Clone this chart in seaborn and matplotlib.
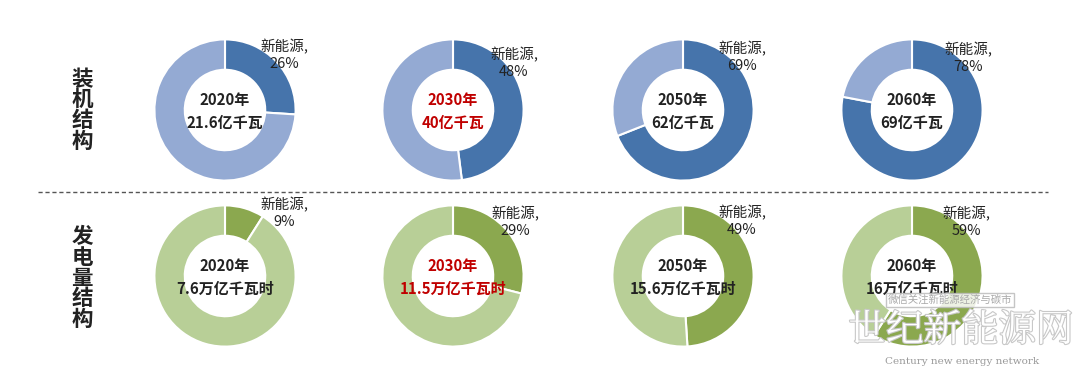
import matplotlib
matplotlib.use("Agg")
import matplotlib.pyplot as plt
import matplotlib.patheffects as pe
import seaborn as sns

sns.set_theme(style="white")
plt.rcParams['font.family'] = ['Noto Sans CJK SC', 'DejaVu Sans']

# ---- data ----
years = ["2020年", "2030年", "2050年", "2060年"]
cap_share = [26, 48, 69, 78]            # new-energy share of installed capacity (%)
cap_total = ["21.6亿千瓦", "40亿千瓦", "62亿千瓦", "69亿千瓦"]
gen_share = [9, 29, 49, 59]             # new-energy share of generation (%)
gen_total = ["7.6万亿千瓦时", "11.5万亿千瓦时", "15.6万亿千瓦时", "16万亿千瓦时"]
row_titles = ["装机结构", "发电量结构"]
slice_label = "新能源,"

# ---- style ----
W, H = 1080, 370
fig = plt.figure(figsize=(W / 100, H / 100), dpi=100)
fig.patch.set_facecolor("white")

blue = ["#4674AB", "#94AAD3"]
green = ["#8BA84F", "#B8CF97"]
centers_x = [225, 453, 683, 912]
rows_y = [110, 276]
R = 72
label_pos = [  # label centre (px) for each donut, per row
    [(284, 55), (514, 63), (742, 57), (968, 58)],
    [(284, 213), (515, 222), (742, 221), (966, 222)],
]

def px_axes(cx, cy, r):
    return fig.add_axes([(cx - r) / W, (H - cy - r) / H, 2 * r / W, 2 * r / H])

rows = [(cap_share, cap_total, blue), (gen_share, gen_total, green)]
for ri, (shares, totals, cols) in enumerate(rows):
    cy = rows_y[ri]
    for ci, (s, tot) in enumerate(zip(shares, totals)):
        cx = centers_x[ci]
        ax = px_axes(cx, cy, R)
        ax.pie([s, 100 - s], colors=cols, startangle=90, counterclock=False,
               radius=1.0, wedgeprops=dict(width=0.43, edgecolor="white", linewidth=1.5))
        ax.set_xlim(-1.02, 1.02)
        ax.set_ylim(-1.02, 1.02)
        ax.set_aspect("equal")
        ax.axis("off")
        col = "#C00000" if ci == 1 else "#222222"
        ax.text(0, 0.14, years[ci], ha="center", va="center", fontsize=10.8,
                fontweight="bold", color=col)
        ax.text(0, -0.18, tot, ha="center", va="center", fontsize=10.8,
                fontweight="bold", color=col)
        lx, ly = label_pos[ri][ci]
        fig.text(lx / W, 1 - ly / H, f"{slice_label}\n{s}%", ha="center", va="center",
                 fontsize=10.5, color="#222222", linespacing=1.25)

# row titles
fig.text(82 / W, 1 - 110 / H, "\n".join(row_titles[0]), ha="center", va="center",
         fontsize=15.5, fontweight="bold", color="#222222", linespacing=0.98)
fig.text(82 / W, 1 - 278 / H, "\n".join(row_titles[1]), ha="center", va="center",
         fontsize=15.5, fontweight="bold", color="#222222", linespacing=0.98)

# dashed separator
sep = fig.add_axes([0, 0, 1, 1], zorder=-1)
sep.set_xlim(0, W)
sep.set_ylim(H, 0)
sep.axis("off")
sep.plot([38, 1048], [192, 192], ls=(0, (3, 2)), color="#555555", lw=1)

# watermark
fig.text(950 / W, 1 - 300 / H, "微信关注新能源经济与碳市", ha="center", va="center",
         fontsize=7.5, color="#AAAAAA",
         bbox=dict(boxstyle="square,pad=0.2", fc="white", ec="#BBBBBB", alpha=0.85))
fig.text(961 / W, 1 - 331 / H, "世纪新能源网", ha="center", va="center",
         fontsize=27, color="white", family=['Noto Serif CJK SC', 'Noto Sans CJK SC'],
         path_effects=[pe.withStroke(linewidth=1.6, foreground="#C8C8C8")])
fig.text(962 / W, 1 - 361 / H, "Century new energy network", ha="center", va="center",
         fontsize=7.5, color="#999999", family="serif")

fig.savefig("out.png", dpi=100, facecolor="white")
